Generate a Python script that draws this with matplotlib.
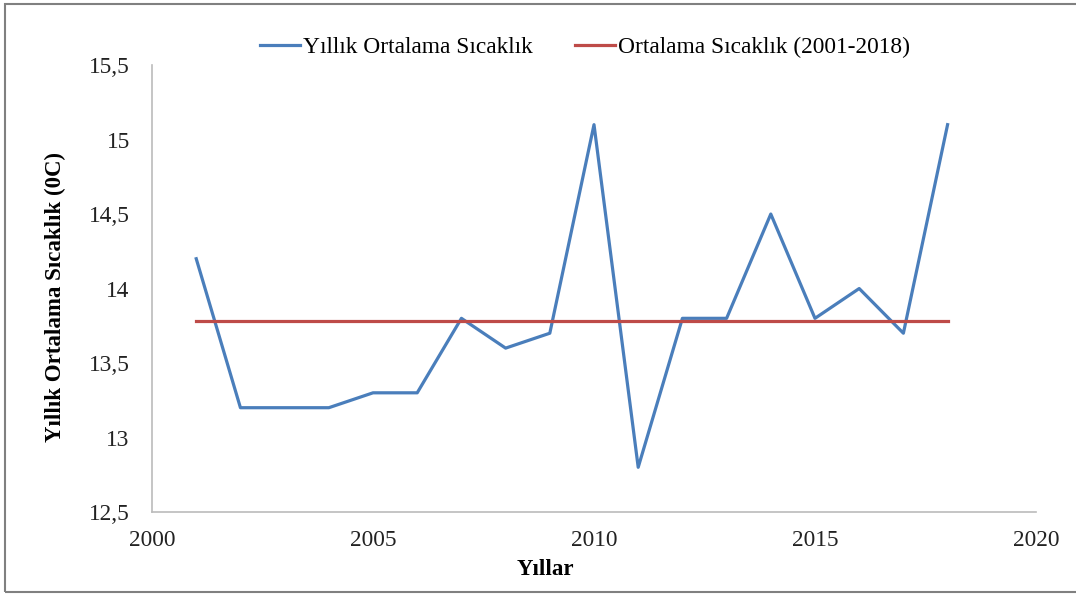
import matplotlib.pyplot as plt
from matplotlib.patches import Rectangle
from matplotlib.ticker import FuncFormatter

# Veriler
yillar = [2001, 2002, 2003, 2004, 2005, 2006, 2007, 2008, 2009,
          2010, 2011, 2012, 2013, 2014, 2015, 2016, 2017, 2018]
sicaklik = [14.2, 13.2, 13.2, 13.2, 13.3, 13.3, 13.8, 13.6, 13.7,
            15.1, 12.8, 13.8, 13.8, 14.5, 13.8, 14.0, 13.7, 15.1]
ortalama = [13.78] * len(yillar)

plt.rcParams['font.family'] = ['Liberation Serif', 'DejaVu Serif']

fig = plt.figure(figsize=(10.76, 5.97), dpi=100)
ax = fig.add_axes([0.1413, 0.1424, 0.8215, 0.7486])

ax.plot(yillar, sicaklik, color='#4A7EBB', lw=2.3, label='Yıllık Ortalama Sıcaklık')
ax.plot(yillar, ortalama, color='#BE4B48', lw=2.3, label='Ortalama Sıcaklık (2001-2018)')

ax.set_xlim(2000, 2020)
ax.set_ylim(12.5, 15.5)
ax.set_xticks([2000, 2005, 2010, 2015, 2020])
ax.set_yticks([12.5, 13, 13.5, 14, 14.5, 15, 15.5])
ax.yaxis.set_major_formatter(FuncFormatter(lambda v, p: ('%g' % v).replace('.', ',')))
ax.tick_params(length=0, labelsize=16.8, colors='#222222')
ax.tick_params(axis='y', pad=16)
ax.tick_params(axis='x', pad=13)

for s in ['top', 'right']:
    ax.spines[s].set_visible(False)
for s in ['left', 'bottom']:
    ax.spines[s].set_color('#BBBBBB')
    ax.spines[s].set_linewidth(1.2)

ax.set_xlabel('Yıllar', fontsize=16.5, fontweight='bold')
ax.xaxis.set_label_coords(0.445, -0.105)
ax.set_ylabel('Yıllık Ortalama Sıcaklık (0C)', fontsize=16.5, fontweight='bold')
ax.yaxis.set_label_coords(-0.097, 0.48)

ax.legend(loc='lower center', bbox_to_anchor=(0.49, 0.995), ncol=2, frameon=False,
          fontsize=16.8, handlelength=1.7, handletextpad=0.15, columnspacing=1.8,
          borderaxespad=0.0)

fig.add_artist(Rectangle((0.005, 0.008), 1.2, 0.985, transform=fig.transFigure,
                         fill=False, edgecolor='#808080', lw=1.5))

fig.savefig('out.png', dpi=100)
